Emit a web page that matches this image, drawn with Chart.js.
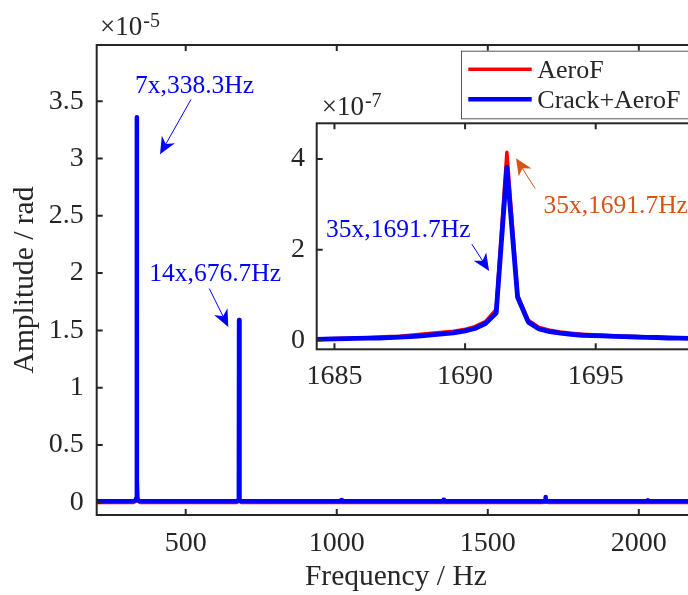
<!DOCTYPE html>
<html lang="en">
<head>
<meta charset="UTF-8" />
<title>Amplitude spectrum: AeroF vs Crack+AeroF</title>
<script src="https://cdn.jsdelivr.net/npm/chart.js@4"></script>
<style>
  html, body { margin: 0; padding: 0; background: #fff; overflow: hidden; }
  body { position: relative; width: 688px; height: 595px; }
  #mainBox { position: absolute; left: 0; top: 0; }
  #insetBox { position: absolute; left: 250px; top: 80px; }
</style>
</head>
<body>
<div id="mainBox"><canvas id="main" width="700" height="595"></canvas></div>
<div id="insetBox"><canvas id="inset" width="460" height="320"></canvas></div>
<script>
// ---- full spectrum (amplitude in units of 1e-5 rad) ----
const mainFreq = [205, 300, 328, 334, 336.7, 337.9, 338.3, 338.7, 339.9, 342.6, 348,
  450, 560, 660, 670, 674, 675.5, 676.3, 676.7, 677.1, 677.9, 679.4, 683,
  800, 900, 1005, 1013, 1015, 1017, 1025, 1200, 1343, 1351, 1353.2, 1355, 1363,
  1550, 1680, 1690, 1691.2, 1691.6, 1692, 1693, 1703, 1900, 2020, 2028, 2030, 2032, 2040, 2190];
const crackMain = [0.01, 0.01, 0.012, 0.018, 0.04, 0.2, 3.36, 0.2, 0.04, 0.018, 0.012,
  0.01, 0.01, 0.01, 0.012, 0.02, 0.04, 0.15, 1.59, 0.15, 0.04, 0.02, 0.012,
  0.01, 0.01, 0.01, 0.012, 0.02, 0.012, 0.01, 0.01, 0.01, 0.012, 0.022, 0.012, 0.01,
  0.01, 0.01, 0.012, 0.016, 0.046, 0.018, 0.012, 0.01, 0.01, 0.01, 0.012, 0.018, 0.012, 0.01, 0.01];
const aeroMain = [0, 0, 0, 0.01, 0.02, 0.027, 0.03, 0.027, 0.02, 0.01, 0,
  0, 0, 0, 0, 0.01, 0.02, 0.027, 0.03, 0.027, 0.02, 0.01, 0,
  0, 0, 0, 0, 0.002, 0, 0, 0, 0, 0, 0.003, 0, 0,
  0, 0, 0.002, 0.006, 0.0415, 0.01, 0.002, 0, 0, 0, 0, 0.002, 0, 0, 0];
const mainXTicks = [500, 1000, 1500, 2000];
const mainYTicks = [0, 0.5, 1, 1.5, 2, 2.5, 3, 3.5];

// ---- zoom around the 35x component (amplitude in units of 1e-7 rad) ----
const zoomFreq = [1684.22, 1684.63, 1685.04, 1685.45, 1685.86, 1686.27, 1686.68, 1687.09,
  1687.50, 1687.91, 1688.32, 1688.73, 1689.14, 1689.55, 1689.96, 1690.37, 1690.78, 1691.19,
  1691.60, 1692.01, 1692.42, 1692.83, 1693.24, 1693.65, 1694.06, 1694.47, 1694.88, 1695.29,
  1695.70, 1696.11, 1696.52, 1696.93, 1697.34, 1697.75, 1698.16, 1698.57, 1698.98, 1699.39];
const crackZoom = [0.02, 0.025, 0.03, 0.035, 0.04, 0.045, 0.05, 0.06,
  0.07, 0.08, 0.095, 0.12, 0.14, 0.165, 0.2, 0.26, 0.37, 0.6,
  3.82, 0.95, 0.4, 0.25, 0.19, 0.155, 0.13, 0.11, 0.1, 0.095,
  0.085, 0.08, 0.072, 0.065, 0.06, 0.05, 0.045, 0.04, 0.035, 0.03];
const aeroZoom = [0.03, 0.035, 0.04, 0.045, 0.05, 0.055, 0.065, 0.08,
  0.09, 0.11, 0.13, 0.155, 0.175, 0.2, 0.235, 0.3, 0.41, 0.68,
  4.15, 1.0, 0.44, 0.28, 0.22, 0.18, 0.155, 0.135, 0.12, 0.11,
  0.1, 0.09, 0.08, 0.072, 0.065, 0.058, 0.05, 0.045, 0.04, 0.035];
const zoomXTicks = [1685, 1690, 1695];
const zoomYTicks = [0, 2, 4];

const SERIF = "'Liberation Serif', 'Times New Roman', serif";
const INK = '#262626';
const RED = '#ff0000';
const BLUE = '#0000ff';
const ORANGE = '#d95319';

const toPoints = (xs, ys) => xs.map((x, i) => ({ x, y: ys[i] }));
const fixedTicks = list => scale => { scale.ticks = list.map(v => ({ value: v })); };

// text arrows, anchored in data coordinates
const mainNotes = [
  { text: '7x,338.3Hz', color: BLUE, at: [332.1, 3.567], from: [517.5, 3.515], to: [414.9, 3.036] },
  { text: '14x,676.7Hz', color: BLUE, at: [379.4, 1.932], from: [578.1, 1.865], to: [641.0, 1.531] },
];
const zoomNotes = [
  { text: '35x,1691.7Hz', color: BLUE, at: [1684.68, 2.27], from: [1690.26, 2.12], to: [1690.92, 1.53] },
  { text: '35x,1691.7Hz', color: ORANGE, at: [1693.0, 2.81], from: [1692.68, 3.35], to: [1691.95, 4.02] },
];

function drawArrow(ctx, x0, y0, x1, y1, color) {
  const ang = Math.atan2(y1 - y0, x1 - x0);
  const L = 17, W = 7.5, N = 12;
  ctx.strokeStyle = color;
  ctx.fillStyle = color;
  ctx.lineWidth = 1;
  ctx.beginPath();
  ctx.moveTo(x0, y0);
  ctx.lineTo(x1 - Math.cos(ang) * N, y1 - Math.sin(ang) * N);
  ctx.stroke();
  ctx.save();
  ctx.translate(x1, y1);
  ctx.rotate(ang);
  ctx.beginPath();
  ctx.moveTo(0, 0);
  ctx.lineTo(-L, -W);
  ctx.lineTo(-N, 0);
  ctx.lineTo(-L, W);
  ctx.closePath();
  ctx.fill();
  ctx.restore();
}

const notesPlugin = notes => ({
  id: 'notes',
  afterDraw(chart) {
    const { ctx, scales: { x, y } } = chart;
    ctx.save();
    notes.forEach(n => {
      ctx.font = `25.5px ${SERIF}`;
      ctx.fillStyle = n.color;
      ctx.textBaseline = 'alphabetic';
      ctx.textAlign = 'left';
      ctx.fillText(n.text, x.getPixelForValue(n.at[0]), y.getPixelForValue(n.at[1]));
      drawArrow(ctx, x.getPixelForValue(n.from[0]), y.getPixelForValue(n.from[1]),
        x.getPixelForValue(n.to[0]), y.getPixelForValue(n.to[1]), n.color);
    });
    ctx.restore();
  }
});

// boxed axes with inward ticks on all sides
const axisFrame = {
  id: 'axisFrame',
  afterDatasetsDraw(chart) {
    const { ctx, chartArea: a, scales: { x, y } } = chart;
    const tl = 6;
    ctx.save();
    ctx.strokeStyle = INK;
    ctx.lineWidth = 2;
    ctx.strokeRect(a.left, a.top, a.right - a.left, a.bottom - a.top);
    ctx.beginPath();
    x.ticks.forEach(t => {
      const px = x.getPixelForValue(t.value);
      ctx.moveTo(px, a.bottom); ctx.lineTo(px, a.bottom - tl);
      ctx.moveTo(px, a.top); ctx.lineTo(px, a.top + tl);
    });
    y.ticks.forEach(t => {
      const py = y.getPixelForValue(t.value);
      ctx.moveTo(a.left, py); ctx.lineTo(a.left + tl, py);
      ctx.moveTo(a.right, py); ctx.lineTo(a.right - tl, py);
    });
    ctx.stroke();
    ctx.restore();
  }
};

// "×10^n" multiplier above the y axis
const exponentLabel = (power, dx, dy) => ({
  id: 'exponent',
  afterDraw(chart) {
    const { ctx, chartArea: a } = chart;
    ctx.save();
    ctx.fillStyle = INK;
    ctx.textBaseline = 'alphabetic';
    ctx.textAlign = 'left';
    ctx.font = `27px ${SERIF}`;
    const base = '\u00d710';
    const x0 = a.left + dx, y0 = a.top - dy;
    ctx.fillText(base, x0, y0);
    const w = ctx.measureText(base).width;
    ctx.font = `20px ${SERIF}`;
    ctx.fillText(power, x0 + w + 1, y0 - 8);
    ctx.restore();
  }
});

const whitePlot = {
  id: 'whitePlot',
  beforeDatasetsDraw(chart) {
    const { ctx, chartArea: a } = chart;
    ctx.save();
    ctx.fillStyle = '#fff';
    ctx.fillRect(a.left, a.top, a.right - a.left, a.bottom - a.top);
    ctx.restore();
  }
};

const legendBox = {
  id: 'legendBox',
  afterDraw(chart) {
    const { ctx, chartArea: a } = chart;
    const right = a.right - 5, top = a.top + 5.7, left = 461, bottom = top + 67.6;
    ctx.save();
    ctx.fillStyle = '#fff';
    ctx.fillRect(left, top, right - left, bottom - top);
    ctx.strokeStyle = '#555';
    ctx.lineWidth = 1;
    ctx.strokeRect(left + 0.5, top + 0.5, right - left, bottom - top);
    const entries = chart.data.datasets.slice().sort((p, q) => q.order - p.order);
    entries.forEach((ds, i) => {
      const cy = top + 18.6 + i * 30;
      ctx.strokeStyle = ds.borderColor;
      ctx.lineWidth = ds.borderWidth;
      ctx.beginPath();
      ctx.moveTo(left + 7.3, cy);
      ctx.lineTo(left + 70.7, cy);
      ctx.stroke();
      ctx.fillStyle = INK;
      ctx.font = `26px ${SERIF}`;
      ctx.textBaseline = 'alphabetic';
      ctx.fillText(ds.label, left + 76.3, cy + 8.6);
    });
    ctx.restore();
  }
};

const lineStyle = { pointRadius: 0, tension: 0, borderCapStyle: 'round', borderJoinStyle: 'round', fill: false };
const tickFont = { family: SERIF, size: 28 };
const titleFont = { family: SERIF, size: 29.5 };

new Chart(document.getElementById('main'), {
  type: 'line',
  data: {
    datasets: [
      { label: 'AeroF', data: toPoints(mainFreq, aeroMain), borderColor: RED, borderWidth: 3.5, order: 2, ...lineStyle },
      { label: 'Crack+AeroF', data: toPoints(mainFreq, crackMain), borderColor: BLUE, borderWidth: 4.5, order: 1, ...lineStyle },
    ],
  },
  options: {
    responsive: false,
    animation: false,
    events: [],
    layout: { padding: { top: 45, right: 5, bottom: 0, left: 0 } },
    plugins: { legend: { display: false }, tooltip: { enabled: false } },
    scales: {
      x: {
        type: 'linear', min: 205.3, max: 2186,
        afterBuildTicks: fixedTicks(mainXTicks),
        afterFit: s => { s.height = 80; },
        grid: { display: false, drawTicks: false },
        border: { display: false },
        ticks: { padding: 12, font: tickFont, color: INK, maxRotation: 0, autoSkip: false, callback: v => String(v) },
        title: { display: true, text: 'Frequency / Hz', font: titleFont, color: INK, padding: { top: 0, bottom: 0.3 } },
      },
      y: {
        type: 'linear', min: -0.11, max: 3.99,
        afterBuildTicks: fixedTicks(mainYTicks),
        afterFit: s => { s.width = 96.7; },
        grid: { display: false, drawTicks: false },
        border: { display: false },
        ticks: { padding: 13, font: tickFont, color: INK, autoSkip: false, callback: v => String(v) },
        title: { display: true, text: 'Amplitude / rad', font: titleFont, color: INK, padding: { top: 7.3, bottom: 0 } },
      },
    },
  },
  plugins: [axisFrame, exponentLabel('-5', 3.3, 10), notesPlugin(mainNotes), legendBox],
});

new Chart(document.getElementById('inset'), {
  type: 'line',
  data: {
    datasets: [
      { label: 'AeroF', data: toPoints(zoomFreq, aeroZoom), borderColor: RED, borderWidth: 3.5, order: 2, ...lineStyle },
      { label: 'Crack+AeroF', data: toPoints(zoomFreq, crackZoom), borderColor: BLUE, borderWidth: 4.8, order: 1, ...lineStyle },
    ],
  },
  options: {
    responsive: false,
    animation: false,
    events: [],
    layout: { padding: { top: 43.3, right: 9.8, bottom: 0, left: 0 } },
    plugins: { legend: { display: false }, tooltip: { enabled: false } },
    scales: {
      x: {
        type: 'linear', min: 1684.32, max: 1699.0,
        afterBuildTicks: fixedTicks(zoomXTicks),
        afterFit: s => { s.height = 50.7; },
        grid: { display: false, drawTicks: false },
        border: { display: false },
        ticks: { padding: 10.6, font: tickFont, color: INK, maxRotation: 0, autoSkip: false, callback: v => String(v) },
      },
      y: {
        type: 'linear', min: -0.2, max: 4.79,
        afterBuildTicks: fixedTicks(zoomYTicks),
        afterFit: s => { s.width = 66.7; },
        grid: { display: false, drawTicks: false },
        border: { display: false },
        ticks: { padding: 11.7, font: tickFont, color: INK, autoSkip: false, callback: v => String(v) },
      },
    },
  },
  plugins: [whitePlot, axisFrame, exponentLabel('-7', 5, 8.3), notesPlugin(zoomNotes)],
});
</script>
</body>
</html>
